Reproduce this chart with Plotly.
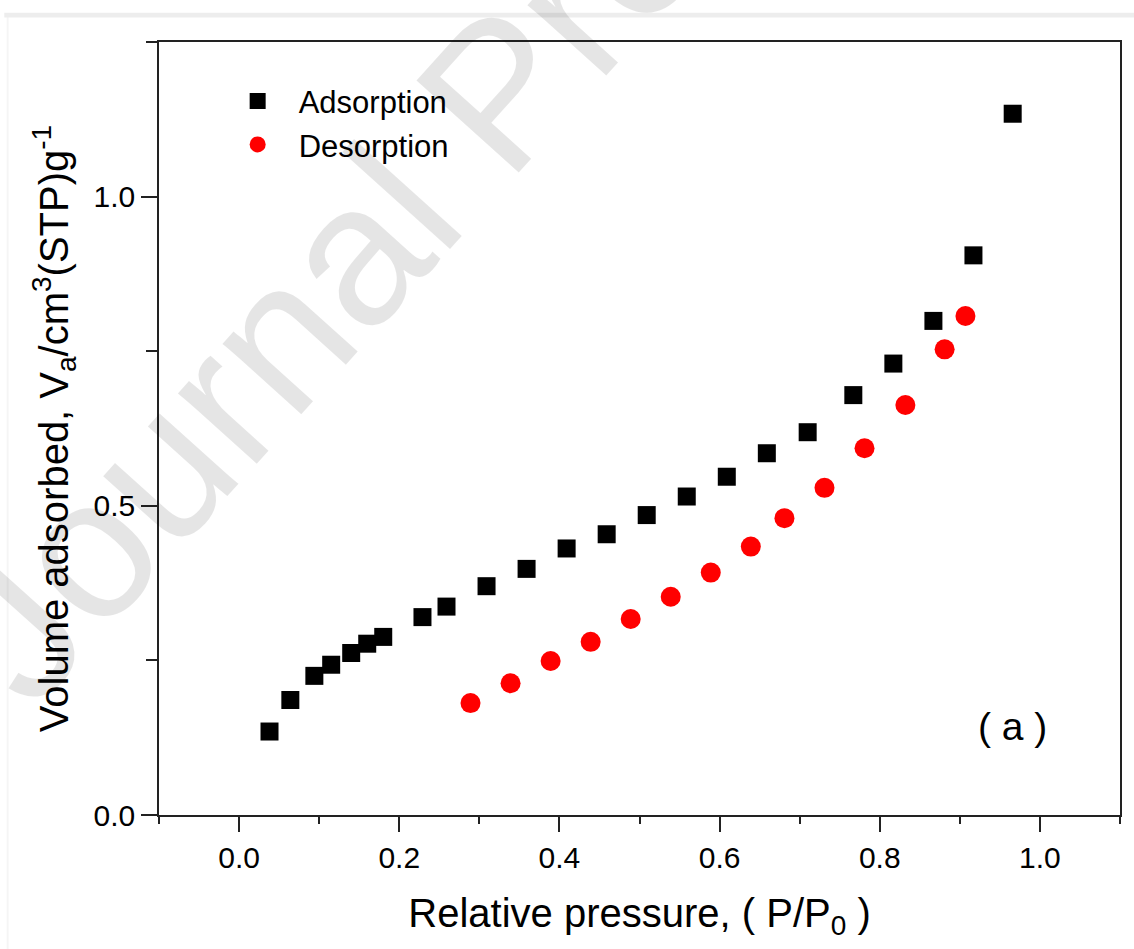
import plotly.graph_objects as go

# Data
ads_x = [0.038, 0.064, 0.094, 0.115, 0.140, 0.160, 0.180, 0.229, 0.259, 0.309,
         0.359, 0.409, 0.459, 0.509, 0.559, 0.609, 0.659, 0.710, 0.767, 0.817,
         0.867, 0.917, 0.966]
ads_y = [0.135, 0.186, 0.225, 0.243, 0.262, 0.277, 0.288, 0.320, 0.337, 0.370,
         0.398, 0.431, 0.454, 0.485, 0.515, 0.547, 0.585, 0.619, 0.679, 0.730,
         0.799, 0.905, 1.134]

des_x = [0.289, 0.339, 0.389, 0.439, 0.489, 0.539, 0.589, 0.639, 0.681, 0.731,
         0.781, 0.832, 0.881, 0.907]
des_y = [0.181, 0.213, 0.249, 0.280, 0.317, 0.353, 0.392, 0.434, 0.480, 0.529,
         0.593, 0.663, 0.753, 0.807]

x_ticks = [0.0, 0.2, 0.4, 0.6, 0.8, 1.0]
y_ticks = [0.0, 0.5, 1.0]

FONT = "Liberation Sans, Arial, sans-serif"

fig = go.Figure()
fig.add_trace(go.Scatter(
    x=ads_x, y=ads_y, mode="markers", name="Adsorption",
    marker=dict(symbol="square", size=18, color="black", line=dict(width=0)),
))
fig.add_trace(go.Scatter(
    x=des_x, y=des_y, mode="markers", name="Desorption",
    marker=dict(symbol="circle", size=20, color="#ff0000", line=dict(width=0)),
))

axis_common = dict(
    showline=True, linecolor="#222222", linewidth=1.5, mirror=True,
    ticks="outside", tickcolor="#222222", tickwidth=1.5,
    showgrid=False, zeroline=False,
    tickfont=dict(family=FONT, size=30, color="black"),
    tickformat=".1f",
)

fig.update_xaxes(
    **axis_common,
    range=[-0.1, 1.1], tickvals=x_ticks, ticklen=15,
    minor=dict(dtick=0.1, tick0=0.0, ticklen=7, ticks="outside",
               tickcolor="#222222", tickwidth=1.5, showgrid=False),
    title=dict(text="Relative pressure, ( P/P<sub>0</sub> )",
               font=dict(family=FONT, size=40, color="black"), standoff=26),
)
fig.update_yaxes(
    **axis_common,
    range=[0, 1.25], tickvals=y_ticks, ticklen=16,
    minor=dict(dtick=0.25, tick0=0.0, ticklen=11, ticks="outside",
               tickcolor="#222222", tickwidth=1.5, showgrid=False),
    title=dict(text="Volume adsorbed, V<sub>a</sub>/cm<sup>3</sup>(STP)g<sup>-1</sup>",
               font=dict(family=FONT, size=40, color="black"), standoff=13),
)

fig.update_layout(
    width=1134, height=949,
    margin=dict(l=159, r=14, t=42, b=134, autoexpand=False),
    paper_bgcolor="white", plot_bgcolor="white",
    showlegend=True,
    legend=dict(
        x=0.06, y=0.958, xanchor="left", yanchor="top",
        bgcolor="rgba(0,0,0,0)", borderwidth=0,
        font=dict(family=FONT, size=31, color="black"),
        itemwidth=72, tracegroupgap=0,
    ),
    annotations=[
        dict(text="( a )", xref="paper", yref="paper", x=0.8886, y=0.115,
             xanchor="center", yanchor="middle", showarrow=False,
             font=dict(family=FONT, size=39, color="black")),
        dict(text="Journal Pre-proof", xref="paper", yref="paper",
             x=0.352, y=0.935, xanchor="center", yanchor="middle",
             showarrow=False, textangle=-48,
             font=dict(family=FONT, size=200, color="rgba(0,0,0,0.10)")),
    ],
    shapes=[
        dict(type="rect", xref="paper", yref="paper",
             x0=-0.161, x1=1.02, y0=1.0318, y1=1.0377,
             line=dict(width=0), fillcolor="rgba(0,0,0,0.07)", layer="below"),
        dict(type="rect", xref="paper", yref="paper",
             x0=-0.1585, x1=-0.1565, y0=-0.18, y1=1.0318,
             line=dict(width=0), fillcolor="rgba(0,0,0,0.04)", layer="below"),
    ],
)

fig.write_html("out.html")
